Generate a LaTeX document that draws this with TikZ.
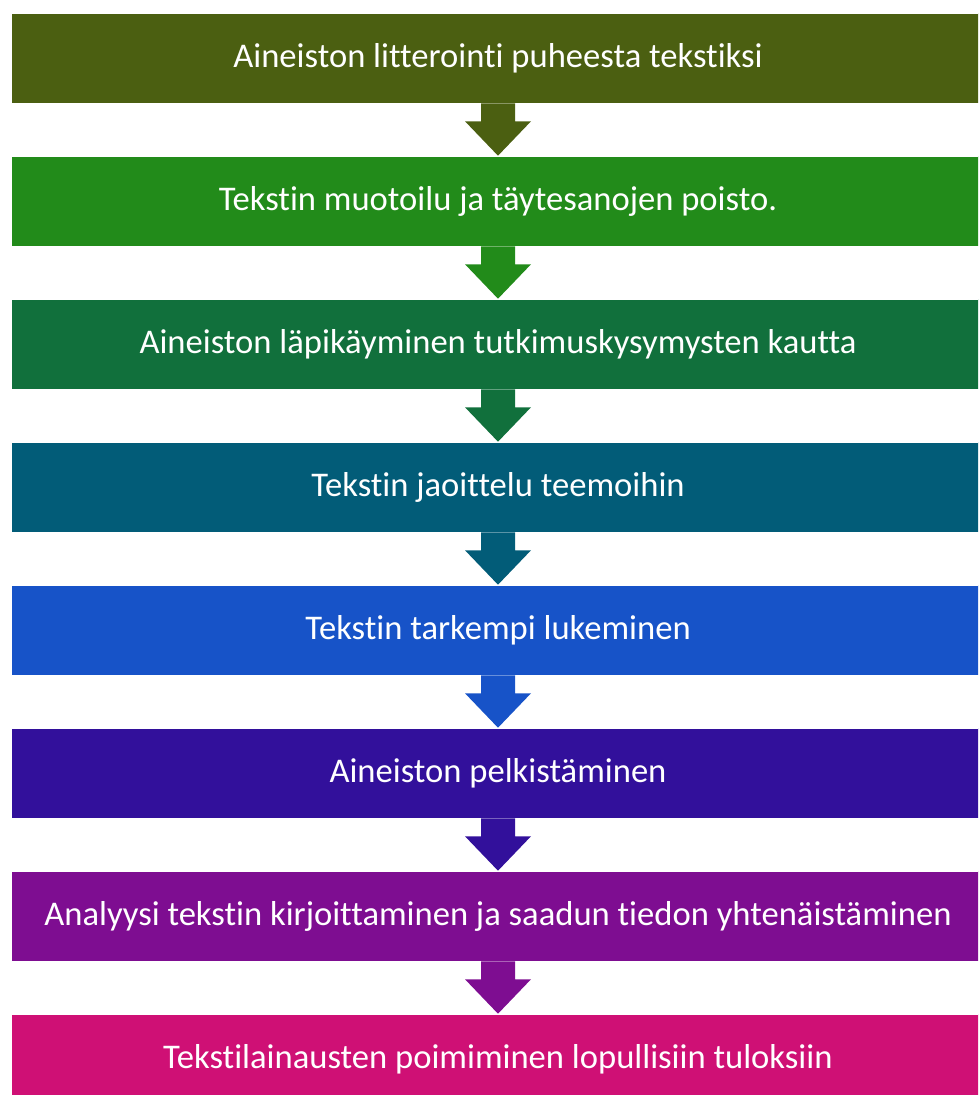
\documentclass[tikz,border=0pt]{standalone}
\usepackage{fontspec}
\setmainfont{Carlito}[Ligatures=NoCommon]
\usetikzlibrary{calc}
\definecolor{c1}{RGB}{75,95,17}
\definecolor{c2}{RGB}{34,139,26}
\definecolor{c3}{RGB}{17,112,60}
\definecolor{c4}{RGB}{2,92,120}
\definecolor{c5}{RGB}{23,83,200}
\definecolor{c6}{RGB}{50,16,155}
\definecolor{c7}{RGB}{126,13,145}
\definecolor{c8}{RGB}{207,16,117}
\tikzset{
  stepbox/.style={rectangle, draw=white, line width=0.6pt, minimum width=974pt, minimum height=90pt,
    inner sep=0pt, text=white, font=\fontsize{34.6}{40}\selectfont},
}
\newcommand{\downarrowshape}[3]{%
  \fill[#3] ($(#1.south)+(-17,0)$) -- ($(#1.south)+(17,0)$) -- ($(#1.south)+(17,18)$)
    -- ($(#1.south)+(33,18)$) -- (#2.north) -- ($(#1.south)+(-33,18)$)
    -- ($(#1.south)+(-17,18)$) -- cycle;}
\begin{document}
\begin{tikzpicture}[x=1pt,y=-1pt]
\useasboundingbox (0,0) rectangle (978,1095);
\clip (0,0) rectangle (978,1095);
\node[stepbox, fill=c1] (b1) at (498,58) {Aineiston litterointi puheesta tekstiksi};
\node[stepbox, fill=c2] (b2) at (498,201) {Tekstin muotoilu ja täytesanojen poisto.};
\node[stepbox, fill=c3] (b3) at (498,344) {Aineiston läpikäyminen tutkimuskysymysten kautta};
\node[stepbox, fill=c4] (b4) at (498,487) {Tekstin jaoittelu teemoihin};
\node[stepbox, fill=c5] (b5) at (498,630) {Tekstin tarkempi lukeminen};
\node[stepbox, fill=c6] (b6) at (498,773) {Aineiston pelkistäminen};
\node[stepbox, fill=c7] (b7) at (498,916) {Analyysi tekstin kirjoittaminen ja saadun tiedon yhtenäistäminen};
\node[stepbox, fill=c8] (b8) at (498,1059) {Tekstilainausten poimiminen lopullisiin tuloksiin};
\downarrowshape{b1}{b2}{c1}
\downarrowshape{b2}{b3}{c2}
\downarrowshape{b3}{b4}{c3}
\downarrowshape{b4}{b5}{c4}
\downarrowshape{b5}{b6}{c5}
\downarrowshape{b6}{b7}{c6}
\downarrowshape{b7}{b8}{c7}
\end{tikzpicture}
\end{document}
